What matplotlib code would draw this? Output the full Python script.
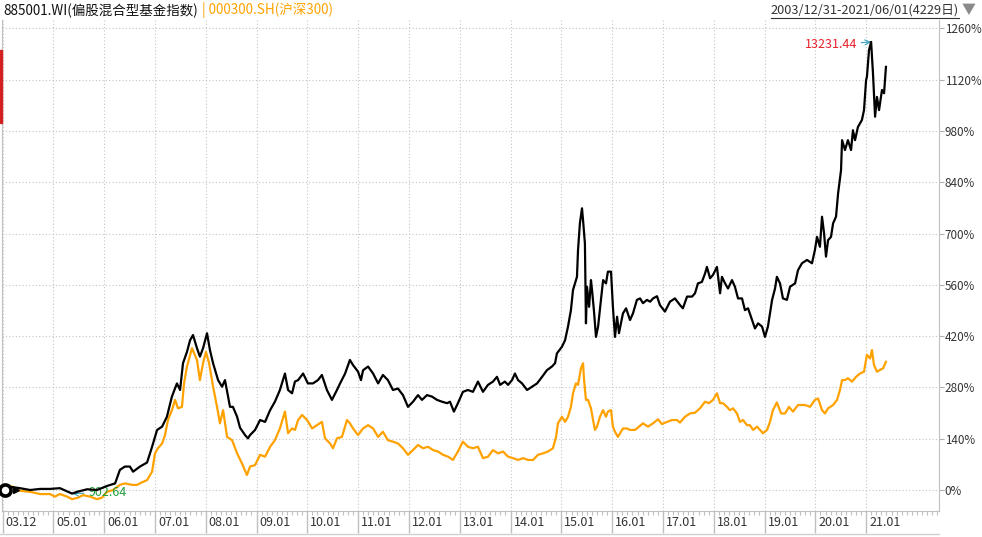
import numpy as np
import matplotlib.pyplot as plt
from matplotlib import transforms
from matplotlib.lines import Line2D
from matplotlib.patches import Rectangle

plt.rcParams['font.family'] = ['Noto Sans CJK SC', 'DejaVu Sans']

# 885001.WI, trading-day index -> cumulative return (%)
fund_days = [0, 46, 84, 132, 180, 227, 275, 333, 357, 405, 452, 500, 539, 562, 586, 610, 625, 658,
             692, 716, 740, 764, 787, 811, 835, 850, 864, 883, 898, 912, 931, 945, 960, 979, 993,
             1008, 1032, 1051, 1065, 1089, 1103, 1123, 1137, 1161, 1175, 1185, 1209, 1233, 1257,
             1281, 1304, 1328, 1352, 1367, 1386, 1400, 1415, 1439, 1462, 1486, 1510, 1529, 1553,
             1577, 1601, 1616, 1640, 1663, 1678, 1702, 1716, 1726, 1750, 1774, 1798, 1821, 1845,
             1869, 1893, 1917, 1941, 1965, 1989, 2008, 2032, 2056, 2080, 2104, 2128, 2142, 2161,
             2180, 2204, 2228, 2252, 2276, 2300, 2324, 2348, 2367, 2382, 2405, 2420, 2439, 2453,
             2468, 2487, 2511, 2535, 2559, 2583, 2606, 2630, 2645, 2654, 2678, 2693, 2707, 2721,
             2731, 2750, 2755, 2764, 2774, 2779, 2788, 2793, 2798, 2808, 2817, 2822, 2831, 2841,
             2851, 2865, 2875, 2889, 2898, 2913, 2922, 2932, 2942, 2951, 2970, 2985, 3004, 3018,
             3037, 3052, 3066, 3085, 3100, 3114, 3133, 3147, 3171, 3195, 3219, 3243, 3257, 3277,
             3301, 3315, 3329, 3348, 3363, 3372, 3387, 3401, 3420, 3435, 3444, 3459, 3473, 3492,
             3506, 3521, 3540, 3554, 3569, 3588, 3602, 3617, 3636, 3650, 3664, 3684, 3698, 3707,
             3722, 3736, 3755, 3770, 3794, 3808, 3827, 3851, 3875, 3889, 3899, 3913, 3923, 3933,
             3942, 3952, 3966, 3976, 3990, 4000, 4014, 4019, 4033, 4047, 4062, 4071, 4081, 4095,
             4114, 4124, 4134, 4138, 4148, 4158, 4167, 4177, 4186, 4196, 4210, 4220, 4229]
fund_pct = [0, 8, 5, 0, 3, 3, 5, -9.736, -5, 2, 0, 11, 18, 55, 64, 64, 50, 64,
            75, 118, 164, 173, 200, 255, 291, 273, 346, 377, 409, 423, 387, 364, 387, 428, 382,
            346, 300, 282, 300, 227, 227, 200, 170, 150, 141, 150, 164, 191, 186,
            218, 241, 273, 318, 273, 264, 296, 300, 318, 291, 291, 300, 314, 273,
            246, 273, 291, 318, 355, 341, 323, 300, 327, 337, 318, 291, 314, 300,
            273, 277, 259, 227, 241, 259, 246, 259, 255, 246, 241, 237, 241, 214,
            237, 268, 273, 268, 296, 268, 287, 296, 309, 287, 296, 287, 300, 318,
            300, 291, 273, 282, 291, 309, 327, 337, 346, 373, 391, 409, 446, 491,
            546, 582, 655, 728, 769, 737, 673, 455, 555, 500, 573, 546, 491, 418,
            446, 519, 573, 564, 596, 596, 500, 418, 473, 428, 482, 496, 464, 482,
            519, 523, 510, 519, 514, 523, 529, 505, 487, 514, 523, 505, 496, 528,
            528, 537, 564, 568, 591, 609, 578, 587, 609, 537, 582, 564, 550, 573,
            555, 523, 523, 491, 496, 464, 441, 455, 446, 418, 446, 519, 550, 582,
            564, 523, 519, 555, 564, 600, 619, 628, 619, 655, 691, 664, 746, 700,
            637, 682, 691, 728, 746, 810, 873, 955, 928, 955, 928, 982, 955, 991,
            1010, 1037, 1119, 1128, 1201, 1223.144, 1137, 1019, 1073, 1037, 1092, 1083, 1155]

# 000300.SH
hs300_days = [0, 46, 84, 132, 180, 227, 251, 275, 309, 333, 361, 385, 419, 452, 476, 500, 529, 562,
              586, 620, 644, 668, 692, 716, 730, 744, 764, 778, 792, 811, 826, 840, 859, 869, 883,
              907, 931, 945, 960, 974, 989, 1008, 1027, 1041, 1056, 1075, 1099, 1123, 1146, 1170,
              1185, 1209, 1233, 1257, 1281, 1304, 1328, 1352, 1367, 1386, 1400, 1415, 1434, 1458,
              1482, 1505, 1529, 1544, 1568, 1582, 1601, 1625, 1649, 1663, 1678, 1702, 1726, 1750,
              1774, 1798, 1821, 1845, 1869, 1893, 1917, 1941, 1965, 1989, 2013, 2037, 2061, 2085,
              2109, 2133, 2156, 2180, 2204, 2228, 2252, 2276, 2300, 2324, 2348, 2372, 2396, 2420,
              2444, 2468, 2492, 2516, 2540, 2563, 2587, 2611, 2635, 2650, 2659, 2678, 2693, 2707,
              2721, 2731, 2745, 2755, 2769, 2779, 2784, 2793, 2803, 2817, 2827, 2836, 2846, 2860,
              2875, 2889, 2898, 2913, 2922, 2932, 2946, 2970, 2989, 3004, 3028, 3047, 3066, 3090,
              3114, 3138, 3157, 3181, 3205, 3229, 3243, 3267, 3291, 3315, 3339, 3363, 3382, 3401,
              3420, 3435, 3449, 3468, 3482, 3497, 3516, 3530, 3545, 3564, 3578, 3593, 3612, 3626,
              3640, 3660, 3674, 3688, 3707, 3727, 3746, 3765, 3784, 3808, 3818, 3842, 3866, 3889,
              3904, 3923, 3937, 3952, 3976, 3995, 4009, 4019, 4033, 4047, 4067, 4086, 4105, 4124,
              4138, 4153, 4162, 4172, 4186, 4201, 4215, 4229]
hs300_pct = [0, 10, -2, -5, -11, -11, -18, -11, -18, -25, -21, -14, -18, -25, -21, -5, 0, 14,
             18, 14, 14, 21, 27, 50, 100, 114, 127, 150, 191, 218, 246, 223, 227, 291, 337,
             387, 355, 300, 346, 377, 346, 282, 227, 182, 218, 145, 136, 100, 73, 41,
             64, 68, 96, 91, 118, 136, 168, 214, 155, 168, 164, 191, 205, 191,
             168, 177, 186, 141, 127, 114, 141, 145, 191, 182, 168, 150, 168, 177,
             168, 145, 159, 136, 132, 127, 114, 96, 109, 123, 114, 118, 109, 105,
             96, 91, 82, 105, 132, 118, 114, 118, 87, 91, 109, 100, 105, 91,
             87, 82, 87, 82, 82, 96, 100, 105, 114, 145, 182, 200, 186, 200,
             227, 264, 291, 287, 332, 346, 300, 246, 246, 223, 191, 164, 173, 200,
             218, 200, 214, 218, 173, 159, 145, 168, 168, 164, 164, 173, 182, 173,
             182, 193, 180, 186, 191, 191, 184, 200, 209, 211, 223, 241, 237, 246,
             264, 237, 237, 227, 218, 223, 209, 186, 191, 177, 177, 164, 173, 164,
             155, 164, 186, 218, 239, 209, 209, 227, 214, 232, 232, 232, 227, 246,
             250, 218, 209, 223, 232, 246, 273, 300, 300, 305, 296, 309, 318, 323,
             369, 359, 382, 341, 323, 328, 332, 350]

fund_base = 1000.0
fund_max = 13231.44
fund_min = 902.64

x_labels = ['03.12', '05.01', '06.01', '07.01', '08.01', '09.01', '10.01', '11.01', '12.01',
            '13.01', '14.01', '15.01', '16.01', '17.01', '18.01', '19.01', '20.01', '21.01']
y_ticks = list(range(0, 1261, 140))

orange = '#ffa200'
W, H = 982, 537
fig = plt.figure(figsize=(W / 100, H / 100), dpi=100)
ax = fig.add_axes([2 / W, 26 / H, 937 / W, 491 / H])

ax.plot(hs300_days, hs300_pct, color=orange, lw=1.6, zorder=3)
ax.plot(fund_days, fund_pct, color='black', lw=1.6, zorder=4)

ax.set_xlim(-2.4, 4483)
ax.set_ylim(-57.3, 1283)

# axes / grid
for s in ['left', 'right', 'bottom']:
    ax.spines[s].set_color('#c0c0c0')
ax.spines['top'].set_visible(False)
ax.yaxis.tick_right()
ax.set_yticks(y_ticks)
ax.set_yticklabels([f'{v}%' for v in y_ticks])
ax.tick_params(axis='y', length=3.5, color='#b0b0b0', labelsize=8.4, labelcolor='#333333', pad=0.5)

grid_days = np.arange(len(x_labels)) * 243.2
ax.set_xticks(grid_days)
ax.set_xticklabels([])
ax.set_xticks(np.arange(0, 4483, 24.32), minor=True)
ax.tick_params(axis='x', which='major', length=16, color='#c0c0c0', width=1)
ax.tick_params(axis='x', which='minor', length=3, color='#c0c0c0', width=0.8)
ax.grid(True, which='major', color='#c4c4c4', linestyle=(0, (1, 2)), linewidth=0.8)

lab_tr = transforms.offset_copy(
    transforms.blended_transform_factory(ax.transData, ax.transAxes), fig, x=3, units='dots')
for d, lab in zip(grid_days, x_labels):
    ax.text(d, -0.023, lab, transform=lab_tr, ha='left', va='center',
            fontsize=9, color='#333333', clip_on=False)

# start marker
ax.plot(0, 0, 'o', ms=8, mfc='white', mec='black', mew=2.6, clip_on=False, zorder=6,
        transform=transforms.offset_copy(ax.transData, fig, x=2.5, units='dots'))
ax.plot(0, 0, '>', ms=5, color='black', clip_on=False, zorder=6,
        transform=transforms.offset_copy(ax.transData, fig, x=13, units='dots'))

# max / min labels
i_max = int(np.argmax(fund_pct))
i_min = int(np.argmin(fund_pct))
ax.annotate(f'{fund_max:.2f}', xy=(fund_days[i_max], fund_pct[i_max]), xytext=(-14, -3),
            textcoords='offset pixels', ha='right', va='center', fontsize=9, color='#e8202a',
            arrowprops=dict(arrowstyle='->', color='#3a9fc0', lw=0.8, shrinkA=1, shrinkB=0))
ax.annotate(f'{fund_min:.2f}', xy=(fund_days[i_min], fund_pct[i_min]), xytext=(16, 1),
            textcoords='offset pixels', ha='left', va='center', fontsize=9, color='#1f9e3a',
            arrowprops=dict(arrowstyle='->', color='#3a9fc0', lw=0.8, shrinkA=1, shrinkB=0))

# header
t1 = fig.text(3 / W, 1 - 10.5 / H, '885001.WI(偏股混合型基金指数)', ha='left', va='center',
              fontsize=9.7, color='#111111')
fig.canvas.draw()
bb = t1.get_window_extent()
fig.text((bb.x1 + 1) / W, 1 - 10.5 / H, ' | 000300.SH(沪深300)', ha='left', va='center',
         fontsize=9.7, color=orange)
t3 = fig.text(959 / W, 1 - 10.5 / H, '2003/12/31-2021/06/01(4229日)', ha='right', va='center',
              fontsize=9.2, color='#333333')
fig.canvas.draw()
bb3 = t3.get_window_extent()
fig.add_artist(Line2D([bb3.x0 / W, bb3.x1 / W], [(H - 18) / H] * 2, color='#333333', lw=0.8))
fig.text(962 / W, 1 - 10 / H, '▼', ha='left', va='center', fontsize=10, color='#8a8a8a')

# side bar and bottom border
fig.add_artist(Rectangle((0, (H - 123) / H), 1.5 / W, 73 / H, color='#d42020',
                         transform=fig.transFigure))
fig.add_artist(Line2D([0, 939 / W], [3 / H, 3 / H], color='#d0d0d0', lw=1))

fig.savefig('out.png', dpi=100)
